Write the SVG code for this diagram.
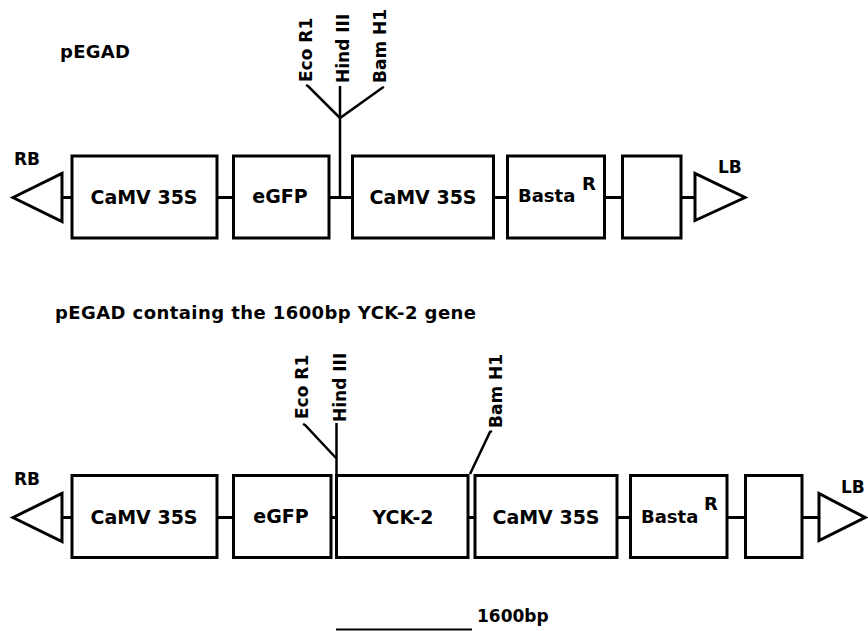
<svg xmlns="http://www.w3.org/2000/svg" width="868" height="631" viewBox="0 0 868 631">
<style>
.box{fill:#fff;stroke:#000;stroke-width:3}
.tri{fill:#fff;stroke:#000;stroke-width:3;stroke-linejoin:miter}
.ln{stroke:#000;stroke-width:3;fill:none}
.site{stroke:#000;stroke-width:2.5;fill:none}
text{font-family:"DejaVu Sans",Verdana,sans-serif;font-weight:bold;fill:#000}
.bt{font-size:19px;text-anchor:middle}
.lab{font-size:17px}
.rs{font-size:17px}
</style>
<rect width="868" height="631" fill="#fff"/>
<text x="60" y="58" style="font-size:18px" textLength="70">pEGAD</text>
<text x="55" y="319" style="font-size:18px" textLength="421">pEGAD containg the 1600bp YCK-2 gene</text>

<g id="connectors">
  <line class="ln" x1="62" y1="197.5" x2="72" y2="197.5"/>
  <line class="ln" x1="217" y1="197.5" x2="234" y2="197.5"/>
  <line class="ln" x1="329" y1="197.5" x2="352" y2="197.5"/>
  <line class="ln" x1="493" y1="197.5" x2="508" y2="197.5"/>
  <line class="ln" x1="604" y1="197.5" x2="623" y2="197.5"/>
  <line class="ln" x1="681" y1="197.5" x2="695" y2="197.5"/>
  <line class="site" x1="340" y1="86" x2="340" y2="198"/>
  <polyline class="site" points="306,85 308,86 340,118 382,88 384,87"/>

  <line class="ln" x1="62" y1="517.5" x2="72" y2="517.5"/>
  <line class="ln" x1="217" y1="517.5" x2="234" y2="517.5"/>
  <line class="ln" x1="331" y1="517.5" x2="337" y2="517.5"/>
  <line class="ln" x1="468" y1="517.5" x2="475" y2="517.5"/>
  <line class="ln" x1="617" y1="517.5" x2="631" y2="517.5"/>
  <line class="ln" x1="727" y1="517.5" x2="746" y2="517.5"/>
  <line class="ln" x1="802" y1="517.5" x2="819" y2="517.5"/>
  <line class="site" x1="336.5" y1="423" x2="336.5" y2="475"/>
  <polyline class="site" points="303,424 305,425 336,458"/>
  <polyline class="site" points="492,431 490,432 470,474"/>
  <line class="site" x1="336" y1="629.5" x2="472" y2="629.5" style="stroke-width:2"/>
</g>

<g id="top-RB">
  <polygon class="tri" points="13,197.5 62,173.5 62,221.5"/>
  <text class="lab" x="14" y="165">RB</text>
</g>
<g id="top-camv1">
  <rect class="box" x="72" y="156" width="145" height="82"/>
  <text class="bt" x="144" y="204">CaMV 35S</text>
</g>
<g id="top-egfp">
  <rect class="box" x="233.5" y="156" width="95.5" height="82"/>
  <text class="bt" x="280" y="203">eGFP</text>
</g>
<g id="top-sites">
  <text class="rs" transform="translate(312,82) rotate(-90)">Eco R1</text>
  <text class="rs" transform="translate(349,83) rotate(-90)">Hind III</text>
  <text class="rs" transform="translate(386,83) rotate(-90)">Bam H1</text>
</g>
<g id="top-camv2">
  <rect class="box" x="352.5" y="156" width="141" height="82"/>
  <text class="bt" x="423" y="204">CaMV 35S</text>
</g>
<g id="top-basta">
  <rect class="box" x="507.5" y="156" width="97" height="82"/>
  <text style="font-size:18px" x="518" y="202">Basta</text>
  <text style="font-size:18px" x="582" y="190">R</text>
</g>
<g id="top-blank">
  <rect class="box" x="622.5" y="156" width="58.5" height="82"/>
</g>
<g id="top-LB">
  <polygon class="tri" points="695,173.5 695,220.5 745,197.5"/>
  <text class="lab" x="718" y="173">LB</text>
</g>

<g id="bot-RB">
  <polygon class="tri" points="13,517.5 62,493.5 62,541.5"/>
  <text class="lab" x="14" y="485">RB</text>
</g>
<g id="bot-camv1">
  <rect class="box" x="72" y="475.5" width="145" height="82"/>
  <text class="bt" x="144" y="524">CaMV 35S</text>
</g>
<g id="bot-egfp">
  <rect class="box" x="233.5" y="475.5" width="97.5" height="82"/>
  <text class="bt" x="281" y="523">eGFP</text>
</g>
<g id="bot-yck2">
  <rect class="box" x="336.5" y="475.5" width="131.5" height="82"/>
  <text class="bt" x="403" y="524">YCK-2</text>
</g>
<g id="bot-sites">
  <text class="rs" transform="translate(308,419) rotate(-90)">Eco R1</text>
  <text class="rs" transform="translate(346,422) rotate(-90)">Hind III</text>
  <text class="rs" transform="translate(502,428) rotate(-90)">Bam H1</text>
</g>
<g id="bot-camv2">
  <rect class="box" x="475" y="475.5" width="142" height="82"/>
  <text class="bt" x="546" y="524">CaMV 35S</text>
</g>
<g id="bot-basta">
  <rect class="box" x="630.5" y="475.5" width="96.5" height="82"/>
  <text style="font-size:18px" x="641" y="523">Basta</text>
  <text style="font-size:18px" x="704" y="510">R</text>
</g>
<g id="bot-blank">
  <rect class="box" x="745.5" y="475.5" width="56.5" height="82"/>
</g>
<g id="bot-LB">
  <polygon class="tri" points="819,493.5 819,540.5 865,517.5"/>
  <text class="lab" x="841" y="493">LB</text>
</g>
<g id="scale">
  <text style="font-size:17px" x="477" y="622">1600bp</text>
</g>
</svg>
